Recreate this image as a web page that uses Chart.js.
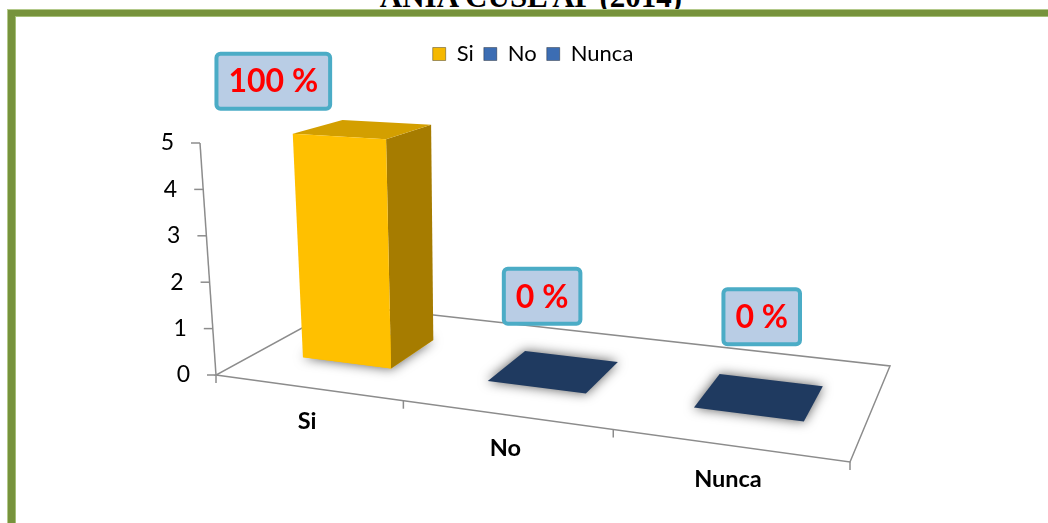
<!DOCTYPE html>
<html>
<head>
<meta charset="utf-8">
<script src="https://cdn.jsdelivr.net/npm/chart.js@4/dist/chart.umd.min.js"></script>
<style>
  html, body { margin: 0; padding: 0; background: #fff; }
  body { width: 1048px; height: 523px; position: relative; overflow: hidden; }
  #title { position: absolute; top: -19px; left: 0; width: 1062px; text-align: center; font: bold 31px "Liberation Serif"; line-height: 31px; color: #000; }
  #frame { position: absolute; left: 8px; top: 10px; width: 1100px; height: 600px; border-left: 7px solid #77933c; border-top: 6px solid #77933c; box-shadow: -1px -1px 0 #b3c98a, inset 1px 1px 0 #a6bf78; }
  #chart3d { position: absolute; left: 0; top: 0; }
</style>
</head>
<body>
<div id="title">ANIA CUSL AP (2014)</div>
<div id="frame"></div>
<canvas id="chart3d" width="1048" height="523"></canvas>
<script>
let categories = ["Si", "No", "Nunca"];
let respuestas = [5, 0, 0];
let yTicks = [0, 1, 2, 3, 4, 5];
let barColors = ["#ffc000", "#1f3a60", "#1f3a60"];
let legendColors = ["#f5b800", "#3c6db3", "#3c6db3"];

Chart.defaults.font.family = "Lato";
Chart.defaults.color = "#000";

// square (0..1 x 0..1) -> floor quad in perspective
function homography(A, B, C, D) {
  let dx1 = B[0] - C[0], dx2 = D[0] - C[0], dx3 = A[0] - B[0] + C[0] - D[0];
  let dy1 = B[1] - C[1], dy2 = D[1] - C[1], dy3 = A[1] - B[1] + C[1] - D[1];
  let den = dx1 * dy2 - dy1 * dx2;
  let g = (dx3 * dy2 - dy3 * dx2) / den;
  let h = (dx1 * dy3 - dy1 * dx3) / den;
  let a = B[0] - A[0] + g * B[0], b = D[0] - A[0] + h * D[0], c = A[0];
  let d = B[1] - A[1] + g * B[1], e = D[1] - A[1] + h * D[1], f = A[1];
  return (u, v) => {
    let w = g * u + h * v + 1;
    return { x: (a * u + b * v + c) / w, y: (d * u + e * v + f) / w, w: w };
  };
}

function poly(ctx, pts) {
  ctx.beginPath();
  ctx.moveTo(pts[0].x, pts[0].y);
  for (let i = 1; i < pts.length; i++) ctx.lineTo(pts[i].x, pts[i].y);
  ctx.closePath();
}

const legendSpace = {
  id: "legendSpace",
  beforeInit(chart) {
    let fit = chart.legend.fit;
    chart.legend.fit = function () {
      fit.call(this);
      this.height = 110;
    };
  }
};

const box3d = {
  id: "box3d",
  beforeDatasetsDraw(chart, args, opts) {
    let ctx = chart.ctx;
    let area = chart.chartArea;
    let xs = chart.scales.x, ys = chart.scales.y;
    let L = area.left, R = area.right, base = ys.getPixelForValue(0);
    let map = homography([L, base], [R, base + 87], [R + 40, base - 9], [L + 128, base - 70]);
    let toU = px => (px - L) / (R - L);
    let lift = (p, val) => {
      let hp = (base - ys.getPixelForValue(val)) / p.w;
      let tilt = -0.069 + (p.x - L) * 0.00027;
      return { x: p.x + hp * tilt, y: p.y - hp };
    };

    ctx.save();
    // floor
    ctx.strokeStyle = "#8c8c8c";
    ctx.lineWidth = 1.5;
    poly(ctx, [map(0, 0), map(1, 0), map(1, 1), map(0, 1)]);
    ctx.stroke();

    // category ticks on the front edge
    let half = (R - L) / categories.length / 2;
    for (let i = 0; i <= categories.length; i++) {
      let px = i < categories.length ? xs.getPixelForValue(i) - half : xs.getPixelForValue(i - 1) + half;
      let p = map(toU(px), 0);
      ctx.beginPath();
      ctx.moveTo(p.x, p.y);
      ctx.lineTo(p.x, p.y + 8);
      ctx.stroke();
    }

    // value axis
    let origin = map(0, 0);
    let axTop = lift(origin, ys.max);
    ctx.beginPath();
    ctx.moveTo(origin.x, origin.y);
    ctx.lineTo(axTop.x, axTop.y);
    ctx.stroke();
    ctx.font = "23px Lato";
    ctx.fillStyle = "#000";
    ctx.textAlign = "right";
    ctx.textBaseline = "middle";
    ys.ticks.forEach(t => {
      let q = lift(origin, t.value);
      ctx.beginPath();
      ctx.moveTo(q.x - 9, q.y);
      ctx.lineTo(q.x, q.y);
      ctx.stroke();
      ctx.fillText(String(t.value), q.x - 26, q.y);
    });

    // category labels
    ctx.font = "bold 23.5px Lato";
    ctx.textAlign = "center";
    xs.getLabels().forEach((lab, i) => {
      let p = map(toU(xs.getPixelForValue(i)), 0);
      ctx.fillText(lab, p.x, p.y + 34);
    });

    // bars
    let meta = chart.getDatasetMeta(0);
    let data = chart.data.datasets[0].data;
    let v0 = opts.front, v1 = opts.back;
    meta.data.forEach((el, i) => {
      let val = data[i];
      let u0 = toU(el.x - el.width / 2), u1 = toU(el.x + el.width / 2);
      let fbl = map(u0, v0), fbr = map(u1, v0), bbr = map(u1, v1), bbl = map(u0, v1);
      let color = chart.data.datasets[0].backgroundColor[i];
      ctx.save();
      ctx.shadowColor = "rgba(0,0,0,0.65)";
      ctx.shadowBlur = 12;
      ctx.fillStyle = color;
      poly(ctx, [fbl, fbr, bbr, bbl]);
      ctx.fill();
      ctx.restore();
      if (val > 0) {
        let tfl = lift(fbl, val), tfr = lift(fbr, val), tbr = lift(bbr, val), tbl = lift(bbl, val);
        ctx.fillStyle = opts.side;
        poly(ctx, [fbr, bbr, tbr, tfr]);
        ctx.fill();
        ctx.fillStyle = opts.top;
        poly(ctx, [tfl, tfr, tbr, tbl]);
        ctx.fill();
        ctx.fillStyle = color;
        poly(ctx, [fbl, fbr, tfr, tfl]);
        ctx.fill();
      }
    });

    // percentage boxes
    let total = data.reduce((s, v) => s + v, 0);
    ctx.font = "bold 32px Lato";
    ctx.textAlign = "center";
    ctx.textBaseline = "middle";
    meta.data.forEach((el, i) => {
      let text = Math.round(data[i] / total * 100) + " %";
      let c = lift(map(toU(el.x), (v0 + v1) / 2), data[i]);
      let cx = c.x + opts.labelOffsets[i][0], cy = c.y + opts.labelOffsets[i][1];
      let w = ctx.measureText(text).width + 24, h = 55;
      ctx.beginPath();
      ctx.roundRect(cx - w / 2, cy - h / 2, w, h, 4);
      ctx.fillStyle = "#b9cde5";
      ctx.fill();
      ctx.lineWidth = 4;
      ctx.strokeStyle = "#4bacc6";
      ctx.stroke();
      ctx.fillStyle = "#ff0000";
      ctx.fillText(text, cx, cy + 1);
    });
    ctx.restore();
    return false;
  }
};

let ctx = document.getElementById("chart3d").getContext("2d");

let myChart = new Chart(ctx, {
  type: "bar",
  data: {
    labels: categories,
    datasets: [
      {
        label: "Respuestas",
        data: respuestas,
        backgroundColor: barColors,
        categoryPercentage: 1,
        barPercentage: 0.49
      }
    ]
  },
  options: {
    responsive: false,
    animation: false,
    devicePixelRatio: 1,
    layout: {
      padding: { top: 33, left: 216, right: 198, bottom: 148 }
    },
    scales: {
      x: { display: false },
      y: { display: false, min: yTicks[0], max: yTicks[yTicks.length - 1], ticks: { stepSize: 1 } }
    },
    plugins: {
      legend: {
        position: "top",
        onClick: null,
        labels: {
          boxWidth: 13,
          boxHeight: 13,
          padding: 10,
          font: { size: 22 },
          generateLabels: chart => categories.map((c, i) => ({
            text: c,
            fillStyle: legendColors[i],
            strokeStyle: "rgba(0,0,0,0.35)",
            lineWidth: 1,
            hidden: false,
            index: i,
            datasetIndex: 0
          }))
        }
      },
      tooltip: { enabled: false },
      box3d: {
        front: 0.3,
        back: 0.68,
        side: "#a67c00",
        top: "#d39f00",
        labelOffsets: [[-90, -48], [-12, -75], [2, -80]]
      }
    }
  },
  plugins: [legendSpace, box3d]
});
</script>
</body>
</html>
